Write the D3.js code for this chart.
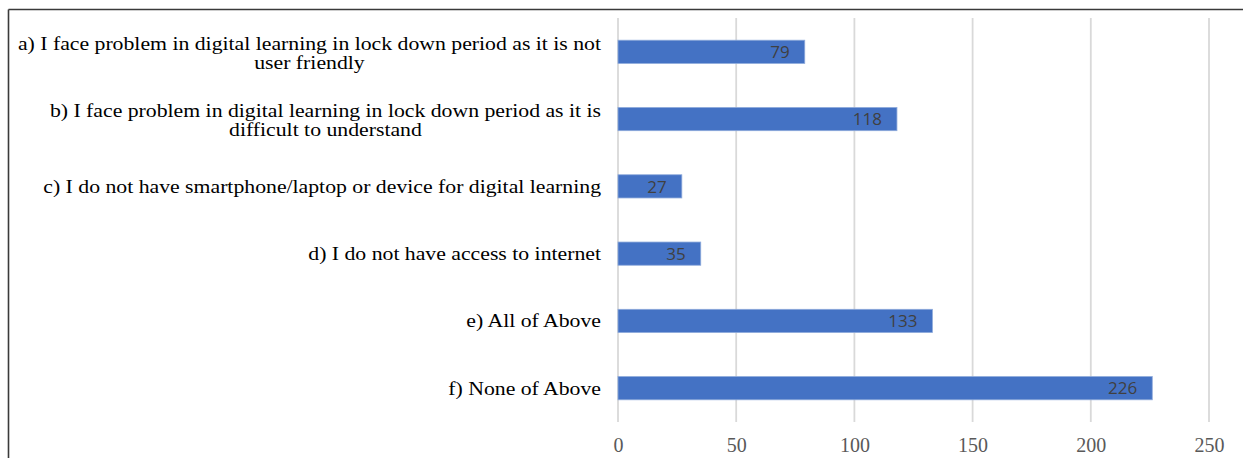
<!DOCTYPE html>
<html>
<head>
<meta charset="utf-8">
<script src="https://cdn.jsdelivr.net/npm/d3@7"></script>
<style>
  html, body { margin: 0; padding: 0; background: #fff; }
  svg { display: block; }
</style>
</head>
<body>
<svg id="chart" width="1243" height="458"></svg>
<script>
// Survey responses: problems faced in digital learning during lockdown
const categories = [
  ["a) I face problem in digital learning in lock down period as it is not", "user friendly"],
  ["b) I face problem in digital learning in lock down period as it is", "difficult to understand"],
  ["c) I do not have smartphone/laptop or device for digital learning"],
  ["d) I do not have access to internet"],
  ["e) All of Above"],
  ["f) None of Above"]
];
const values = [79, 118, 27, 35, 133, 226];
const xTicks = [0, 50, 100, 150, 200, 250];

const svg = d3.select("#chart");
const W = 1243, H = 458;

const plot = { left: 618, right: 1209, top: 18, bottom: 422 };

const x = d3.scaleLinear().domain([0, 250]).range([plot.left, plot.right]);
const y = d3.scaleBand()
  .domain(d3.range(categories.length))
  .range([plot.top, plot.bottom])
  .paddingInner(0.655)
  .paddingOuter(0.33);

// outer frame (top and left edges visible)
svg.append("line").attr("x1", 8.5).attr("x2", W).attr("y1", 9.5).attr("y2", 9.5)
  .attr("stroke", "#3a3a3a").attr("stroke-width", 1.6);
svg.append("line").attr("x1", 8.5).attr("x2", 8.5).attr("y1", 9.5).attr("y2", H)
  .attr("stroke", "#3a3a3a").attr("stroke-width", 1.6);

// vertical gridlines
svg.append("g")
  .selectAll("line")
  .data(xTicks)
  .join("line")
  .attr("x1", d => x(d)).attr("x2", d => x(d))
  .attr("y1", plot.top).attr("y2", plot.bottom)
  .attr("stroke", "#d9d9d9")
  .attr("stroke-width", 1.8);

// x axis tick labels
const xAxis = d3.axisBottom(x).tickValues(xTicks).tickSize(0).tickPadding(0);
const gx = svg.append("g").attr("transform", `translate(0,${plot.bottom})`).call(xAxis);
gx.select(".domain").remove();
gx.selectAll("text")
  .attr("dy", null)
  .attr("y", 30)
  .attr("font-family", "'Liberation Serif', 'Times New Roman', serif")
  .attr("font-size", 20)
  .attr("fill", "#595959");

// bars
svg.append("g")
  .selectAll("rect")
  .data(values)
  .join("rect")
  .attr("x", x(0))
  .attr("y", (d, i) => y(i))
  .attr("width", d => x(d) - x(0))
  .attr("height", y.bandwidth())
  .attr("fill", "#4472c4")
  .attr("stroke", "#8eaadb")
  .attr("stroke-width", 0.8);

// value labels inside bar ends
svg.append("g")
  .selectAll("text")
  .data(values)
  .join("text")
  .attr("x", d => x(d) - 15)
  .attr("y", (d, i) => y(i) + y.bandwidth() / 2)
  .attr("dy", "0.37em")
  .attr("text-anchor", "end")
  .attr("font-family", "'Open Sans', 'Liberation Sans', sans-serif")
  .attr("font-size", 17)
  .attr("fill", "#404040")
  .text(d => d);

// category labels: wide serif text, line block right-aligned, lines centred within it
const labelRight = 601;
const lineH = 18.5;
const stretch = 1.145;
const lg = svg.append("g")
  .attr("font-family", "'Liberation Serif', 'Times New Roman', serif")
  .attr("font-size", 19)
  .attr("fill", "#000");

categories.forEach((lines, i) => {
  const cy = y(i) + y.bandwidth() / 2 + (lines.length > 1 ? 1 : 0);
  const g = lg.append("g")
    .attr("transform", `translate(${labelRight},0) scale(${stretch},1)`);
  const texts = lines.map((t, j) => g.append("text")
    .attr("y", cy + (j - (lines.length - 1) / 2) * lineH)
    .attr("dy", "0.34em")
    .text(t));
  const maxW = d3.max(texts.map(t => t.node().getComputedTextLength()));
  texts.forEach(t => t.attr("x", -maxW / 2).attr("text-anchor", "middle"));
});
</script>
</body>
</html>
